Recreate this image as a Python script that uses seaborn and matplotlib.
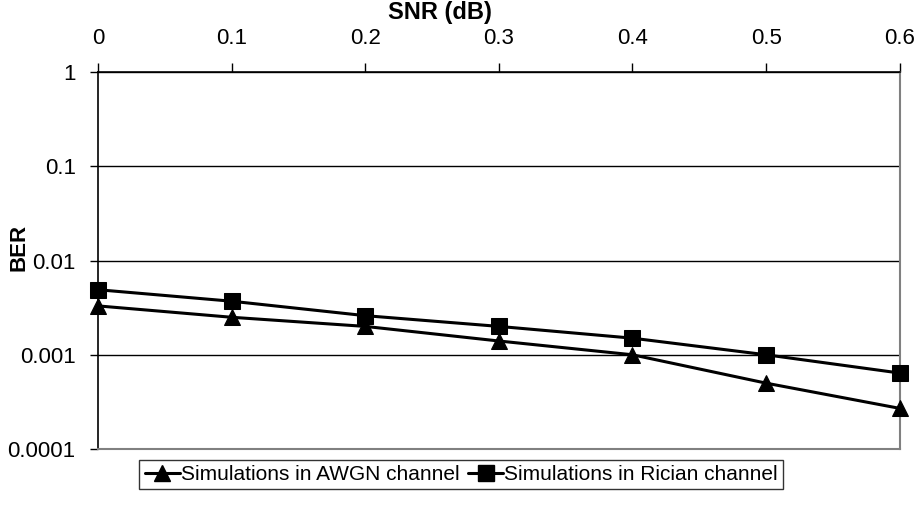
import pandas as pd
import matplotlib.pyplot as plt
import matplotlib.ticker as mticker
import seaborn as sns

snr = [0, 0.1, 0.2, 0.3, 0.4, 0.5, 0.6]
ber_awgn = [0.0033, 0.0025, 0.0020, 0.0014, 0.0010, 0.0005, 0.00027]
ber_rician = [0.0049, 0.0037, 0.0026, 0.0020, 0.0015, 0.0010, 0.00064]
labels = ['Simulations in AWGN channel', 'Simulations in Rician channel']

df = pd.DataFrame({
    'snr': snr * 2,
    'ber': ber_awgn + ber_rician,
    'series': [labels[0]] * len(snr) + [labels[1]] * len(snr),
})

sns.set_style('white')
plt.rcParams['font.family'] = ['Liberation Sans', 'DejaVu Sans']
plt.rcParams['text.color'] = 'black'
plt.rcParams['xtick.color'] = 'black'
plt.rcParams['ytick.color'] = 'black'

fig = plt.figure(figsize=(9.19, 5.2), dpi=100)
ax = fig.add_axes([0.1066, 0.1365, 0.8724, 0.725])

sns.lineplot(data=df, x='snr', y='ber', hue='series', style='series',
             markers={labels[0]: '^', labels[1]: 's'}, dashes=False,
             palette={labels[0]: 'black', labels[1]: 'black'},
             markersize=11, linewidth=2.2, markeredgecolor='black', ax=ax, legend=False,
             clip_on=False, zorder=5)

ax.set_yscale('log')
ax.set_ylim(0.0001, 1)
ax.set_xlim(0, 0.6)
ax.set_xticks(snr)
ax.set_xticklabels(['0', '0.1', '0.2', '0.3', '0.4', '0.5', '0.6'])
ax.set_yticks([0.0001, 0.001, 0.01, 0.1, 1])
ax.set_yticklabels(['0.0001', '0.001', '0.01', '0.1', '1'])
ax.yaxis.set_minor_locator(mticker.NullLocator())
ax.xaxis.tick_top()
ax.tick_params(axis='y', which='major', direction='out', length=6, width=1,
               labelsize=16, pad=10, left=True)
ax.tick_params(axis='x', which='major', direction='out', length=6.5, width=1,
               labelsize=16, pad=10, top=True)
ax.grid(axis='y', color='black', linewidth=1)
for s in ['bottom', 'right']:
    ax.spines[s].set_color('#808080')
    ax.spines[s].set_linewidth(1.5)
for s in ['left', 'top']:
    ax.spines[s].set_color('black')
    ax.spines[s].set_linewidth(1.2)

ax.set_xlabel('')
ax.set_ylabel('')
fig.text(0.479, 0.976, 'SNR (dB)', ha='center', va='center', fontsize=17, fontweight='bold')
fig.text(0.021, 0.525, 'BER', ha='center', va='center', rotation=90, fontsize=16, fontweight='bold')

handles = [plt.Line2D([], [], color='black', marker='^', markersize=11, linewidth=2.2),
           plt.Line2D([], [], color='black', marker='s', markersize=11, linewidth=2.2)]
leg = fig.legend(handles, labels, loc='center', bbox_to_anchor=(0.502, 0.087), ncol=2,
                 frameon=True, fancybox=False, edgecolor='black', fontsize=15,
                 handlelength=1.7, columnspacing=0.4, handletextpad=0.05, borderpad=0.25,
                 borderaxespad=0)
leg.get_frame().set_linewidth(1)

fig.savefig('out.png', dpi=100)
